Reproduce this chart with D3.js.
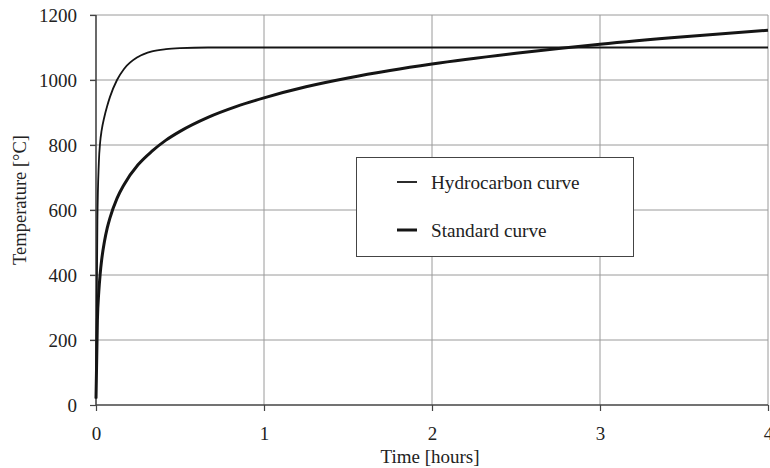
<!DOCTYPE html>
<html>
<head>
<meta charset="utf-8">
<script src="https://cdn.jsdelivr.net/npm/d3@7/dist/d3.min.js"></script>
<style>
  html, body { margin: 0; padding: 0; background: #fff; }
  svg { display: block; }
  svg text { font-family: "Liberation Serif", "Times New Roman", serif; fill: #222; }
</style>
</head>
<body>
<svg id="chart" width="770" height="468"></svg>
<script>
// Time in minutes
const hydroTime = [0, 0.5, 1, 1.5, 2, 3, 4, 5, 7.5, 10, 15, 20, 25, 30, 40, 60, 120, 180, 240];
const hydroTemp = [20, 568, 743, 810, 844, 887, 920, 948, 1000, 1034, 1071, 1088, 1095, 1098, 1100, 1100, 1100, 1100, 1100];

const stdTime = [0, 0.5, 1, 1.5, 2, 3, 4, 5, 7.5, 10, 15, 20, 25, 30, 40, 50, 60, 75, 90, 105, 120, 150, 180, 210, 240];
const stdTemp = [20, 261, 349, 404, 445, 502, 544, 576, 636, 678, 739, 781, 815, 842, 885, 918, 945, 979, 1006, 1029, 1049, 1082, 1110, 1133, 1153];

const xTickValues = [0, 60, 120, 180, 240];
const xTickLabels = ["0", "1", "2", "3", "4"];
const yTickValues = [0, 200, 400, 600, 800, 1000, 1200];

const seriesNames = ["Hydrocarbon curve", "Standard curve"];

const svg = d3.select("#chart");
const margin = { left: 96, right: 2, top: 15, bottom: 63 };
const W = 770, H = 468;
const serif = "'Liberation Serif', 'Times New Roman', serif";

const x = d3.scaleLinear().domain([0, 240]).range([margin.left, W - margin.right]);
const y = d3.scaleLinear().domain([0, 1200]).range([H - margin.bottom, margin.top]);

// horizontal gridlines
svg.append("g")
  .selectAll("line")
  .data(yTickValues.filter(v => v > 0))
  .join("line")
  .attr("x1", x(0) - 6).attr("x2", x(240))
  .attr("y1", d => y(d)).attr("y2", d => y(d))
  .attr("stroke", "#9a9a9a").attr("stroke-width", 1);

// vertical gridlines
svg.append("g")
  .selectAll("line")
  .data(xTickValues.filter(v => v > 0))
  .join("line")
  .attr("x1", d => x(d)).attr("x2", d => x(d))
  .attr("y1", y(0)).attr("y2", y(1200))
  .attr("stroke", "#9a9a9a").attr("stroke-width", 1);

// axes
const yAxis = d3.axisLeft(y).tickValues(yTickValues).tickFormat(d3.format("d")).tickSize(6).tickPadding(13);
const xAxis = d3.axisBottom(x).tickValues(xTickValues).tickFormat((d, i) => xTickLabels[i]).tickSize(6).tickPadding(16);

const gy = svg.append("g").attr("transform", `translate(${x(0)},0)`).call(yAxis);
const gx = svg.append("g").attr("transform", `translate(0,${y(0)})`).call(xAxis);
[gy, gx].forEach(g => {
  g.attr("font-family", serif).attr("font-size", 19);
  g.select(".domain").attr("stroke", "#444").attr("stroke-width", 1.6);
  g.selectAll(".tick line").attr("stroke", "#444").attr("stroke-width", 1.2);
  g.selectAll(".tick text").style("font-size", "19px").attr("fill", "#222");
});
gx.select(".domain").attr("d", `M${x(0)},0H${x(240)}`);
gy.select(".domain").attr("d", `M0,${y(0)}V${y(1200)}`);

// axis titles
svg.append("text")
  .attr("x", (x(0) + x(240)) / 2 - 2).attr("y", 463)
  .attr("text-anchor", "middle").style("font-size", "19px")
  .text("Time [hours]");
svg.append("text")
  .attr("transform", `translate(26,${200}) rotate(-90)`)
  .attr("text-anchor", "middle").style("font-size", "18.5px")
  .text("Temperature [°C]");

// curves
const line = d3.line().x(d => x(d[0])).y(d => y(d[1])).curve(d3.curveMonotoneX);
svg.append("path")
  .datum(hydroTime.map((t, i) => [t, hydroTemp[i]]))
  .attr("d", line).attr("fill", "none")
  .attr("stroke", "#151515").attr("stroke-width", 1.8);
svg.append("path")
  .datum(stdTime.map((t, i) => [t, stdTemp[i]]))
  .attr("d", line).attr("fill", "none")
  .attr("stroke", "#151515").attr("stroke-width", 3);

// legend
const lg = svg.append("g");
lg.append("rect")
  .attr("x", 356.5).attr("y", 157.5).attr("width", 277).attr("height", 99)
  .attr("fill", "#fff").attr("stroke", "#444").attr("stroke-width", 1);
const widths = [1.8, 3];
seriesNames.forEach((name, i) => {
  const yy = 182 + i * 48;
  lg.append("line").attr("x1", 397).attr("x2", 417).attr("y1", yy).attr("y2", yy)
    .attr("stroke", "#151515").attr("stroke-width", widths[i]);
  lg.append("text").attr("x", 431).attr("y", yy + 6.5).style("font-size", "19.2px").text(name);
});
</script>
</body>
</html>
